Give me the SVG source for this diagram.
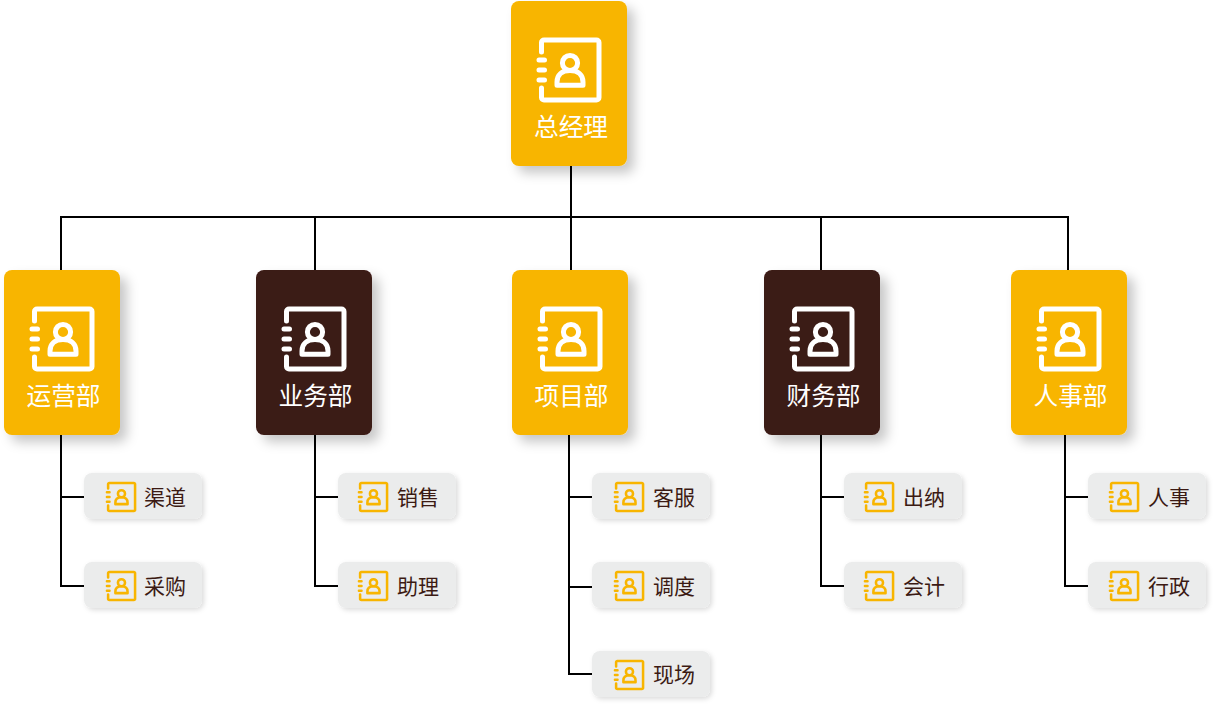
<svg xmlns="http://www.w3.org/2000/svg" width="1213" height="705" viewBox="0 0 1213 705">
<style>
.y{fill:#f8b500}.d{fill:#3b1a13}.c{fill:#ebecec}
.big{filter:url(#s1)}.small{filter:url(#s2)}
.conn{fill:none;stroke:#000;stroke-width:2}
text{font-family:"Noto Sans CJK SC","Noto Sans",sans-serif}
.t1{font-size:24.700px;fill:#fff;text-anchor:middle}
.t2{font-size:21px;fill:#3b1a13}
.iw{color:#fff;stroke-width:5}
.iy{color:#f8b500;stroke-width:5.400}
.ip{fill:none;stroke:currentColor;stroke-linecap:round;stroke-linejoin:round}
</style>
<defs>
<filter id="s1" x="-20%" y="-20%" width="150%" height="140%"><feDropShadow dx="7" dy="7" stdDeviation="6" flood-color="#000" flood-opacity=".22"/></filter>
<filter id="s2" x="-10%" y="-20%" width="125%" height="150%"><feDropShadow dx="2" dy="2" stdDeviation="2.500" flood-color="#000" flood-opacity=".14"/></filter>
<symbol id="ic" viewBox="0 0 64 64" overflow="visible">
<path class="ip" d="M4.500 14V4.500a2.500 2.500 0 0 1 2.500-2.500H59.500a2.500 2.500 0 0 1 2.500 2.500V59.500a2.500 2.500 0 0 1-2.500 2.500H7a2.500 2.500 0 0 1-2.500-2.500V50"/>
<path class="ip" d="M2 22H7.500M2 32H7.500M2 42H7.500"/>
<circle class="ip" cx="33" cy="25" r="7.600"/>
<path class="ip" d="M20 47.200V44c0-7 5-11.500 13-11.500s13 4.500 13 11.500v3.200z"/>
</symbol>
</defs>
<rect width="1213" height="705" fill="#fff"/>
<g id="connectors" class="conn">
<path d="M571 166V270M61 270V217H1068V270M315 217V270M821 217V270"/>
<path d="M61 435V586H84M61 497H84"/>
<path d="M315 435V586H338M315 497H338"/>
<path d="M569 435V674H592M569 497H592M569 587H592"/>
<path d="M821 435V586H844M821 497H844"/>
<path d="M1065 435V586H1088M1065 497H1088"/>
</g>
<g id="n-zjl"><rect class="y big" x="511" y="1" width="116" height="165" rx="8"/><use class="iw" href="#ic" x="537" y="38" width="64" height="64"/><text class="t1" x="571" y="136">总经理</text></g>
<g id="n-yy"><rect class="y big" x="4" y="270" width="116" height="165" rx="8"/><use class="iw" href="#ic" x="30" y="307" width="64" height="64"/><text class="t1" x="63.500" y="405">运营部</text></g>
<g id="n-yw"><rect class="d big" x="256" y="270" width="116" height="165" rx="8"/><use class="iw" href="#ic" x="282" y="307" width="64" height="64"/><text class="t1" x="315.500" y="405">业务部</text></g>
<g id="n-xm"><rect class="y big" x="512" y="270" width="116" height="165" rx="8"/><use class="iw" href="#ic" x="538" y="307" width="64" height="64"/><text class="t1" x="571.500" y="405">项目部</text></g>
<g id="n-cw"><rect class="d big" x="764" y="270" width="116" height="165" rx="8"/><use class="iw" href="#ic" x="790" y="307" width="64" height="64"/><text class="t1" x="823.500" y="405">财务部</text></g>
<g id="n-rs"><rect class="y big" x="1011" y="270" width="116" height="165" rx="8"/><use class="iw" href="#ic" x="1037" y="307" width="64" height="64"/><text class="t1" x="1070.500" y="405">人事部</text></g>
<g id="c-qd"><rect class="c small" x="84" y="473" width="118" height="46" rx="8"/><use class="iy" href="#ic" x="106" y="482" width="30" height="30"/><text class="t2" x="144" y="504.500">渠道</text></g>
<g id="c-cg"><rect class="c small" x="84" y="562" width="118" height="46" rx="8"/><use class="iy" href="#ic" x="106" y="571" width="30" height="30"/><text class="t2" x="144" y="593.500">采购</text></g>
<g id="c-xs"><rect class="c small" x="338" y="473" width="118" height="46" rx="8"/><use class="iy" href="#ic" x="358" y="482" width="30" height="30"/><text class="t2" x="397" y="504.500">销售</text></g>
<g id="c-zl"><rect class="c small" x="338" y="562" width="118" height="46" rx="8"/><use class="iy" href="#ic" x="358" y="571" width="30" height="30"/><text class="t2" x="397" y="593.500">助理</text></g>
<g id="c-kf"><rect class="c small" x="592" y="473" width="118" height="46" rx="8"/><use class="iy" href="#ic" x="614" y="482" width="30" height="30"/><text class="t2" x="653" y="504.500">客服</text></g>
<g id="c-dd"><rect class="c small" x="592" y="562" width="118" height="46" rx="8"/><use class="iy" href="#ic" x="614" y="571" width="30" height="30"/><text class="t2" x="653" y="593.500">调度</text></g>
<g id="c-xc"><rect class="c small" x="592" y="651" width="118" height="46" rx="8"/><use class="iy" href="#ic" x="614" y="660" width="30" height="30"/><text class="t2" x="653" y="682">现场</text></g>
<g id="c-cn"><rect class="c small" x="844" y="473" width="118" height="46" rx="8"/><use class="iy" href="#ic" x="864" y="482" width="30" height="30"/><text class="t2" x="903" y="504.500">出纳</text></g>
<g id="c-kj"><rect class="c small" x="844" y="562" width="118" height="46" rx="8"/><use class="iy" href="#ic" x="864" y="571" width="30" height="30"/><text class="t2" x="903" y="593.500">会计</text></g>
<g id="c-rs"><rect class="c small" x="1088" y="473" width="118" height="46" rx="8"/><use class="iy" href="#ic" x="1109" y="482" width="30" height="30"/><text class="t2" x="1148" y="504.500">人事</text></g>
<g id="c-xz"><rect class="c small" x="1088" y="562" width="118" height="46" rx="8"/><use class="iy" href="#ic" x="1109" y="571" width="30" height="30"/><text class="t2" x="1148" y="593.500">行政</text></g>
</svg>
